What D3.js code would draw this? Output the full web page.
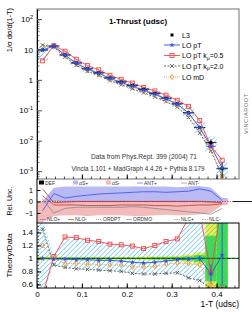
<!DOCTYPE html>
<html>
<head>
<meta charset="utf-8">
<script src="https://cdn.jsdelivr.net/npm/d3@7"></script>
<style>
  body { margin: 0; background: #fff; }
  svg { display: block; font-family: "Liberation Sans", Arial, sans-serif; }
</style>
</head>
<body>
<svg id="chart" width="252" height="313"></svg>
<script>
// bins of 1-T (udsc)
const binCenters = [0.0125, 0.0375, 0.0625, 0.0875, 0.1125, 0.1375, 0.1625, 0.1875, 0.2125,
  0.2375, 0.2625, 0.2875, 0.3125, 0.3375, 0.3625, 0.3875, 0.4125];
const binHalf = 0.0125;

// L3 data, 1/sigma dsigma/d(1-T)
const l3Values = [9.6, 13.0, 6.6, 3.6, 2.3, 1.7, 1.16, 0.86, 0.66, 0.49, 0.36, 0.25, 0.163,
  0.083, 0.027, 0.0086, 0.0012];
const l3RelErr = [0.04, 0.03, 0.03, 0.03, 0.03, 0.03, 0.03, 0.03, 0.03, 0.03, 0.04, 0.04, 0.05,
  0.07, 0.1, 0.3, 0.6];

// Theory / Data ratios
const ratioLOpT = [1.0, 0.99, 0.99, 0.98, 0.98, 0.97, 0.97, 0.96, 0.94, 0.93, 0.94, 0.96, 0.98,
  0.99, 1.0, 0.76, 1.05];
const ratioLOpTErr = [0.01, 0.01, 0.01, 0.01, 0.01, 0.01, 0.01, 0.01, 0.01, 0.01, 0.01, 0.01, 0.02,
  0.02, 0.04, 0.15, 0.6];
const ratioKmu05 = [0.44, 1.03, 1.33, 1.32, 1.28, 1.26, 1.22, 1.21, 1.19, 1.15, 1.2, 1.26, 1.3,
  1.62, 1.7, 0.78, 1.9];
const ratioKmu20 = [1.45, 0.9, 0.86, 0.84, 0.83, 0.82, 0.81, 0.8, 0.77, 0.76, 0.76, 0.77, 0.78,
  0.7, 0.66, 0.53, 0.57];
const ratioLOmD = [1.2, 1.0, 0.92, 0.92, 0.91, 0.91, 0.9, 0.9, 0.87, 0.87, 0.88, 0.91, 0.93,
  0.92, 0.9, 0.6, 0.55];
const bandUpper = [1.6, 1.05, 1.33, 1.32, 1.28, 1.26, 1.22, 1.21, 1.19, 1.15, 1.2, 1.26, 1.3,
  1.6, 1.6, 1.6, 1.6];
const bandLower = [0.44, 0.9, 0.86, 0.84, 0.83, 0.82, 0.81, 0.8, 0.77, 0.76, 0.76, 0.77, 0.78,
  0.7, 0.66, 0.5, 0.55];
const dataTotHalf = [0.03, 0.02, 0.02, 0.02, 0.02, 0.02, 0.02, 0.02, 0.02, 0.025, 0.03, 0.03, 0.04,
  0.06, 0.09, 0.6, 0.8];
const dataStatHalf = [0.01, 0.01, 0.01, 0.01, 0.01, 0.01, 0.01, 0.01, 0.01, 0.01, 0.015, 0.015, 0.02,
  0.03, 0.05, 0.35, 0.6];

// relative uncertainty panel
const relAlphaUp = [0.0, 1.2, 1.3, 1.3, 1.3, 1.3, 1.3, 1.3, 1.3, 1.3, 1.3, 1.3, 1.25, 1.3, 1.35, 1.2, 0.3];
const relAlphaDn = [-1.8, -1.25, -1.2, -1.2, -1.25, -1.2, -1.2, -1.2, -1.25, -1.25, -1.2, -1.15, -1.2,
  -1.2, -1.1, -1.0, -0.3];
const relAntUp = [-0.8, 0.7, 0.3, 0.45, 0.55, 0.65, 0.7, 0.75, 0.8, 0.85, 0.85, 0.8, 0.85, 0.9, 1.1, 0.9, 0.1];
const relAntDn = [1.1, -0.1, -0.05, 0, 0, 0, 0, 0, 0, 0, 0, 0, 0, 0, 0, -0.05, -0.1];
const relNloDn = [0.5, -0.3, -0.3, -0.3, -0.35, -0.35, -0.35, -0.3, -0.3, -0.3, -0.35, -0.35, -0.4,
  -0.35, -0.3, -0.3, -0.2];
const relOrdMo = [0.2, -1.0, -0.6, -0.5, -0.5, -0.5, -0.5, -0.5, -0.45, -0.5, -0.6, -0.7, -0.8,
  -0.9, -1.0, -1.1, -0.6];
const relNlcUp = [-0.1, 0.1, 0.05, 0.05, 0.05, 0.05, 0.05, 0.05, 0.05, 0.05, 0.05, 0.05, 0.05,
  0.05, 0.05, 0.0, 0.0];

const xTickLabels = ['0', '0.1', '0.2', '0.3', '0.4'];
const ratioTickLabels = ['0.6', '0.8', '1', '1.2', '1.4'];

const col = {
  blue: '#2d4fe8', red: '#f0474a', gray: '#555', orange: '#e8952e', hatch: '#3cb2e6',
  yellow: '#f4f23a', green: '#3fe03f', lav: '#b9b9f4', pink: '#f4b9b9'
};

const svg = d3.select('#chart');
const left = 37, right = 239;
const main = { top: 9, bottom: 179 };
const rel = { top: 179, bottom: 223 };
const rat = { top: 223, bottom: 288 };

const x = d3.scaleLinear().domain([0, 0.45]).range([left, right]);
const yMain = d3.scaleLog().domain([Math.pow(10, -3.26), Math.pow(10, 2.33)]).range([main.bottom, main.top]);
const yRel = d3.scaleLinear().domain([-1.87, 1.96]).range([rel.bottom, rel.top]);
const yRat = d3.scaleLinear().domain([0.545, 1.545]).range([rat.bottom, rat.top]);

const defs = svg.append('defs');
defs.append('pattern').attr('id', 'hatch').attr('width', 3.4).attr('height', 3.4)
  .attr('patternUnits', 'userSpaceOnUse').attr('patternTransform', 'rotate(45)')
  .append('line').attr('x1', 0).attr('y1', 0).attr('x2', 0).attr('y2', 3.4)
  .attr('stroke', col.hatch).attr('stroke-width', 1.1);
[['clipMain', main], ['clipRel', rel], ['clipRat', rat]].forEach(([id, p]) => {
  defs.append('clipPath').attr('id', id).append('rect')
    .attr('x', left).attr('y', p.top).attr('width', right - left).attr('height', p.bottom - p.top);
});

const bins = binCenters.map((c, i) => ({ c, i }));
// same bins, plus the outer bin edges so bands reach the histogram borders
const last = bins.length - 1;
const bandPts = [{ c: binCenters[0] - binHalf, i: 0 }, ...bins, { c: binCenters[last] + binHalf, i: last }];

function markers(g, data, xf, yf, type, color, size) {
  data.forEach(d => {
    const px = xf(d), py = yf(d);
    if (type === 'square') {
      g.append('rect').attr('x', px - size / 2).attr('y', py - size / 2).attr('width', size).attr('height', size)
        .attr('fill', 'none').attr('stroke', color).attr('stroke-width', 0.9);
    } else if (type === 'fsquare') {
      g.append('rect').attr('x', px - size / 2).attr('y', py - size / 2).attr('width', size).attr('height', size)
        .attr('fill', color);
    } else if (type === 'cross') {
      const s = size / 2;
      g.append('path').attr('d', `M${px - s},${py - s}L${px + s},${py + s}M${px - s},${py + s}L${px + s},${py - s}`)
        .attr('stroke', color).attr('stroke-width', 0.9);
    } else if (type === 'diamond') {
      const s = size / 2 + 0.5;
      g.append('path').attr('d', `M${px},${py - s}L${px + s * 0.7},${py}L${px},${py + s}L${px - s * 0.7},${py}Z`)
        .attr('fill', 'none').attr('stroke', color).attr('stroke-width', 0.9);
    } else if (type === 'star') {
      g.append('path').attr('transform', `translate(${px},${py})`)
        .attr('d', d3.symbol(d3.symbolStar, size * 3)()).attr('fill', color);
    }
  });
}

function theoryLine(g, data, xf, yf, color, dash) {
  g.append('path').datum(data)
    .attr('d', d3.line().x(xf).y(yf))
    .attr('fill', 'none').attr('stroke', color).attr('stroke-width', 0.9)
    .attr('stroke-dasharray', dash || null);
}

// ---------------- main panel ----------------
const gMain = svg.append('g').attr('clip-path', 'url(#clipMain)');

gMain.selectAll('rect.band').data(bins).join('rect')
  .attr('x', d => x(d.c - binHalf)).attr('width', d => x(d.c + binHalf) - x(d.c - binHalf))
  .attr('y', d => yMain(l3Values[d.i] * bandUpper[d.i]))
  .attr('height', d => yMain(l3Values[d.i] * bandLower[d.i]) - yMain(l3Values[d.i] * bandUpper[d.i]))
  .attr('fill', 'url(#hatch)');

const mx = d => x(d.c);
theoryLine(gMain, bins, mx, d => yMain(l3Values[d.i] * ratioKmu20[d.i]), col.gray, '2,1.5');
theoryLine(gMain, bins, mx, d => yMain(l3Values[d.i] * ratioLOmD[d.i]), col.orange, '1,1.2');
theoryLine(gMain, bins, mx, d => yMain(l3Values[d.i] * ratioKmu05[d.i]), col.red);
theoryLine(gMain, bins, mx, d => yMain(l3Values[d.i] * ratioLOpT[d.i]), col.blue);

markers(gMain, bins, mx, d => yMain(l3Values[d.i] * ratioKmu05[d.i]), 'square', col.red, 4);
markers(gMain, bins, mx, d => yMain(l3Values[d.i] * ratioKmu20[d.i]), 'cross', col.gray, 3.5);
markers(gMain, bins, mx, d => yMain(l3Values[d.i] * ratioLOmD[d.i]), 'diamond', col.orange, 4);

// L3 data with error bars
gMain.selectAll('path.err').data(bins).join('path')
  .attr('d', d => {
    const v = l3Values[d.i], e = l3RelErr[d.i];
    return `M${x(d.c - binHalf)},${yMain(v)}H${x(d.c + binHalf)}M${x(d.c)},${yMain(v * (1 + e))}V${yMain(v * (1 - e))}`;
  })
  .attr('stroke', '#000').attr('stroke-width', 0.9);
markers(gMain, bins, mx, d => yMain(l3Values[d.i]), 'fsquare', '#000', 3);
gMain.selectAll('path.berr').data(bins).join('path')
  .attr('d', d => `M${x(d.c - binHalf * 0.8)},${yMain(l3Values[d.i] * ratioLOpT[d.i])}H${x(d.c + binHalf * 0.8)}`)
  .attr('stroke', col.blue).attr('stroke-width', 0.9);
markers(gMain, bins, mx, d => yMain(l3Values[d.i] * ratioLOpT[d.i]), 'star', col.blue, 3);

// main frame and axes
svg.append('rect').attr('x', left).attr('y', main.top).attr('width', right - left).attr('height', main.bottom - main.top)
  .attr('fill', 'none').attr('stroke', '#888').attr('stroke-width', 1.2);

const decades = [-3, -2, -1, 0, 1, 2];
const minorVals = [];
[-4, -3, -2, -1, 0, 1, 2].forEach(e => [2, 3, 4, 5, 6, 7, 8, 9].forEach(m => {
  const v = m * Math.pow(10, e);
  if (v > yMain.domain()[0] && v < yMain.domain()[1]) minorVals.push(v);
}));
svg.append('g').attr('transform', `translate(${left},0)`)
  .call(d3.axisLeft(yMain).tickValues(minorVals).tickSizeInner(-2.5).tickSizeOuter(0).tickFormat(''))
  .call(g => g.select('.domain').remove())
  .call(g => g.selectAll('line').attr('stroke', '#777'));
const yAxisMain = svg.append('g').attr('transform', `translate(${left},0)`)
  .call(d3.axisLeft(yMain).tickValues(decades.map(e => Math.pow(10, e))).tickSizeInner(-5).tickSizeOuter(0)
    .tickPadding(4).tickFormat(''));
yAxisMain.select('.domain').attr('stroke', '#000');
yAxisMain.selectAll('line').attr('stroke', '#555');
yAxisMain.selectAll('.tick').each(function (v) {
  const e = Math.round(Math.log10(v));
  const t = d3.select(this).select('text').attr('font-size', 8).attr('fill', '#000');
  if (e === 0) t.text('1');
  else if (e === 1) t.text('10');
  else {
    t.text('10');
    t.append('tspan').attr('dy', -3.5).attr('font-size', 5.5).text(e);
  }
});

function xTicks(yPos, labels) {
  const minor = d3.range(0, 0.451, 0.02);
  svg.append('g').attr('transform', `translate(0,${yPos})`)
    .call(d3.axisBottom(x).tickValues(minor).tickSizeInner(-2.5).tickSizeOuter(0).tickFormat(''))
    .call(g => g.select('.domain').remove())
    .call(g => g.selectAll('line').attr('stroke', '#000').attr('stroke-width', 0.7));
  const g = svg.append('g').attr('transform', `translate(0,${yPos})`)
    .call(d3.axisBottom(x).tickValues([0, 0.1, 0.2, 0.3, 0.4]).tickSizeInner(-4.5).tickSizeOuter(0)
      .tickPadding(3).tickFormat((d, i) => labels ? labels[i] : ''));
  g.select('.domain').remove();
  g.selectAll('line').attr('stroke', '#000');
  g.selectAll('text').attr('font-size', 8).attr('fill', '#000');
}
xTicks(main.bottom, null);

svg.append('text').attr('x', 138).attr('y', 24).attr('text-anchor', 'middle')
  .attr('font-size', 8).attr('font-weight', 'bold').text('1-Thrust (udsc)');
svg.append('text').attr('transform', 'translate(12,8) rotate(-90)').attr('text-anchor', 'end')
  .attr('font-size', 7.5).text('1/σ dσ/d(1-T)');
svg.append('text').attr('x', 144).attr('y', 159).attr('text-anchor', 'middle').attr('font-size', 6.6)
  .attr('fill', '#333').text('Data from Phys.Rept. 399 (2004) 71');
svg.append('text').attr('x', 138).attr('y', 170.5).attr('text-anchor', 'middle').attr('font-size', 6.3)
  .attr('fill', '#333').text('Vincia 1.101 + MadGraph 4.4.26 + Pythia 8.179');
svg.append('text').attr('transform', 'translate(248,134) rotate(-90)').attr('font-size', 5.6)
  .attr('fill', '#777').attr('letter-spacing', 0.6).text('VINCIAROOT');

// legend
const legend = svg.append('g');
const legY = [35, 45, 55.5, 66, 77];
legend.append('rect').attr('x', 170.5).attr('y', legY[0] - 1.5).attr('width', 3).attr('height', 3).attr('fill', '#000');
const legItems = [
  { y: legY[1], color: col.blue, dash: null, type: 'star' },
  { y: legY[2], color: col.red, dash: null, type: 'square' },
  { y: legY[3], color: col.gray, dash: '2,1.5', type: 'cross' },
  { y: legY[4], color: col.orange, dash: '1,1.2', type: 'diamond' }
];
legItems.forEach(it => {
  legend.append('line').attr('x1', 164).attr('x2', 180).attr('y1', it.y).attr('y2', it.y)
    .attr('stroke', it.color).attr('stroke-width', 0.9).attr('stroke-dasharray', it.dash);
  markers(legend, [0], () => 172, () => it.y, it.type, it.color, it.type === 'star' ? 3 : 4);
});
function legText(y, main, sub, rest) {
  const t = legend.append('text').attr('x', 182).attr('y', y + 2.5).attr('font-size', 7).text(main);
  if (sub) {
    t.append('tspan').attr('font-size', 5).attr('dy', 1.5).text(sub);
    t.append('tspan').attr('dy', -1.5).text(rest);
  }
}
legText(legY[0], 'L3');
legText(legY[1], 'LO pT');
legText(legY[2], 'LO pT k', 'μ', '=0.5');
legText(legY[3], 'LO pT k', 'μ', '=2.0');
legText(legY[4], 'LO mD');

// ---------------- relative uncertainty panel ----------------
const gRel = svg.append('g').attr('clip-path', 'url(#clipRel)');
gRel.append('path').datum(bandPts)
  .attr('d', d3.area().x(mx).y0(yRel(0)).y1(d => yRel(relAlphaUp[d.i])))
  .attr('fill', col.lav);
gRel.append('path').datum(bandPts)
  .attr('d', d3.area().x(mx).y0(yRel(0)).y1(d => yRel(relAlphaDn[d.i])))
  .attr('fill', col.pink);
const relLine = (arr, color, dash, w) => gRel.append('path').datum(bins)
  .attr('d', d3.line().x(mx).y(d => yRel(arr[d.i])))
  .attr('fill', 'none').attr('stroke', color).attr('stroke-width', w || 0.8).attr('stroke-dasharray', dash || null);
relLine(relOrdMo, '#888');
relLine(relNloDn, '#b04040');
relLine(relNlcUp, '#9999dd', '2,1');
relLine(relAntDn, '#c03030');
relLine(relAntUp, '#4a5af0', null, 0.9);
gRel.append('line').attr('x1', left).attr('x2', right).attr('y1', yRel(0)).attr('y2', yRel(0))
  .attr('stroke', '#a03030').attr('stroke-width', 0.7).attr('stroke-dasharray', '1.5,1');
svg.append('line').attr('x1', 233).attr('x2', 252).attr('y1', yRel(0)).attr('y2', yRel(0))
  .attr('stroke', '#000').attr('stroke-width', 0.9);

const yAxisRel = svg.append('g').attr('transform', `translate(${left},0)`)
  .call(d3.axisLeft(yRel).tickValues([-1, 0, 1]).tickSizeInner(-3.5).tickSizeOuter(0).tickPadding(4)
    .tickFormat(d3.format('d')));
yAxisRel.select('.domain').remove();
yAxisRel.selectAll('text').attr('font-size', 7).attr('fill', '#000');
svg.append('line').attr('x1', left).attr('x2', left).attr('y1', rel.top).attr('y2', rel.bottom).attr('stroke', '#000');

// rel legends
const relLeg = svg.append('g').attr('font-size', 5).attr('fill', '#333');
relLeg.append('rect').attr('x', 39).attr('y', 180.5).attr('width', 5).attr('height', 4).attr('fill', '#000');
relLeg.append('text').attr('x', 45).attr('y', 184.5).text('DEF');
relLeg.append('rect').attr('x', 73).attr('y', 180.5).attr('width', 5).attr('height', 4).attr('fill', col.lav);
relLeg.append('text').attr('x', 79).attr('y', 184.5).text('αS+');
relLeg.append('rect').attr('x', 106).attr('y', 180.5).attr('width', 5).attr('height', 4).attr('fill', col.pink);
relLeg.append('text').attr('x', 112).attr('y', 184.5).text('αS-');
const relLegLine = (x0, y, color, dash, label) => {
  relLeg.append('line').attr('x1', x0).attr('x2', x0 + 6).attr('y1', y - 1.5).attr('y2', y - 1.5)
    .attr('stroke', color).attr('stroke-width', 0.8).attr('stroke-dasharray', dash || null);
  relLeg.append('text').attr('x', x0 + 7).attr('y', y).text(label);
};
relLegLine(137, 184.5, '#6a7af0', null, 'ANT+');
relLegLine(181, 184.5, '#e08080', null, 'ANT-');
relLegLine(40, 221, '#8888ee', null, 'NLO+');
relLegLine(68, 221, '#c05050', null, 'NLO-');
relLegLine(96, 221, '#999', '1,1', 'ORDPT');
relLegLine(126, 221, '#999', null, 'ORDMO');
relLegLine(174, 221, '#9999dd', '1.5,1', 'NLC+');
relLegLine(202, 221, '#d08080', '1.5,1', 'NLC-');

svg.append('text').attr('transform', 'translate(12,201) rotate(-90)').attr('text-anchor', 'middle')
  .attr('font-size', 7).text('Rel. Unc.');

// ---------------- theory / data panel ----------------
const gRat = svg.append('g').attr('clip-path', 'url(#clipRat)');
gRat.selectAll('rect.tot').data(bins).join('rect')
  .attr('x', d => x(d.c - binHalf)).attr('width', d => x(d.c + binHalf) - x(d.c - binHalf))
  .attr('y', d => yRat(1 + dataTotHalf[d.i])).attr('height', d => yRat(1 - dataTotHalf[d.i]) - yRat(1 + dataTotHalf[d.i]))
  .attr('fill', col.yellow);
gRat.selectAll('rect.stat').data(bins).join('rect')
  .attr('x', d => x(d.c - binHalf)).attr('width', d => x(d.c + binHalf) - x(d.c - binHalf))
  .attr('y', d => yRat(1 + dataStatHalf[d.i])).attr('height', d => yRat(1 - dataStatHalf[d.i]) - yRat(1 + dataStatHalf[d.i]))
  .attr('fill', col.green);
gRat.append('path').datum(bandPts)
  .attr('d', d3.area().x(mx).y0(d => yRat(bandLower[d.i])).y1(d => yRat(bandUpper[d.i])))
  .attr('fill', 'url(#hatch)');
gRat.append('line').attr('x1', left).attr('x2', right).attr('y1', yRat(1)).attr('y2', yRat(1))
  .attr('stroke', '#1c8a1c').attr('stroke-width', 1.3);
gRat.append('line').attr('x1', left).attr('x2', right).attr('y1', yRat(1)).attr('y2', yRat(1))
  .attr('stroke', '#113311').attr('stroke-width', 0.7).attr('stroke-dasharray', '3,2');

theoryLine(gRat, bins, mx, d => yRat(ratioKmu20[d.i]), col.gray, '2,1.5');
theoryLine(gRat, bins, mx, d => yRat(ratioLOmD[d.i]), col.orange, '1,1.2');
theoryLine(gRat, bins, mx, d => yRat(ratioKmu05[d.i]), col.red);
theoryLine(gRat, bins, mx, d => yRat(ratioLOpT[d.i]), col.blue);
gRat.selectAll('path.berr').data(bins).join('path')
  .attr('d', d => `M${x(d.c)},${yRat(ratioLOpT[d.i] + ratioLOpTErr[d.i])}V${yRat(ratioLOpT[d.i] - ratioLOpTErr[d.i])}`)
  .attr('stroke', col.blue).attr('stroke-width', 0.9);
markers(gRat, bins, mx, d => yRat(ratioKmu05[d.i]), 'square', col.red, 4);
markers(gRat, bins, mx, d => yRat(ratioKmu20[d.i]), 'cross', col.gray, 3.5);
markers(gRat, bins, mx, d => yRat(ratioLOmD[d.i]), 'diamond', col.orange, 4);
markers(gRat, bins, mx, d => yRat(ratioLOpT[d.i]), 'star', col.blue, 3);

svg.append('rect').attr('x', left).attr('y', rat.top).attr('width', right - left).attr('height', rat.bottom - rat.top)
  .attr('fill', 'none').attr('stroke', '#000').attr('stroke-width', 1);
svg.append('g').attr('transform', `translate(${left},0)`)
  .call(d3.axisLeft(yRat).tickValues(d3.range(0.55, 1.546, 0.05)).tickSizeInner(-2).tickSizeOuter(0).tickFormat(''))
  .call(g => g.select('.domain').remove())
  .call(g => g.selectAll('line').attr('stroke', '#000').attr('stroke-width', 0.6));
const yAxisRat = svg.append('g').attr('transform', `translate(${left},0)`)
  .call(d3.axisLeft(yRat).tickValues([0.6, 0.8, 1.0, 1.2, 1.4]).tickSizeInner(-4).tickSizeOuter(0).tickPadding(4)
    .tickFormat((d, i) => ratioTickLabels[i]));
yAxisRat.select('.domain').remove();
yAxisRat.selectAll('text').attr('font-size', 8).attr('fill', '#000');
xTicks(rat.bottom, xTickLabels);

svg.append('text').attr('transform', `translate(12,${(rat.top + rat.bottom) / 2}) rotate(-90)`)
  .attr('text-anchor', 'middle').attr('font-size', 8).text('Theory/Data');
svg.append('text').attr('x', right).attr('y', 307).attr('text-anchor', 'end').attr('font-size', 8.5)
  .text('1-T (udsc)');
</script>
</body>
</html>
